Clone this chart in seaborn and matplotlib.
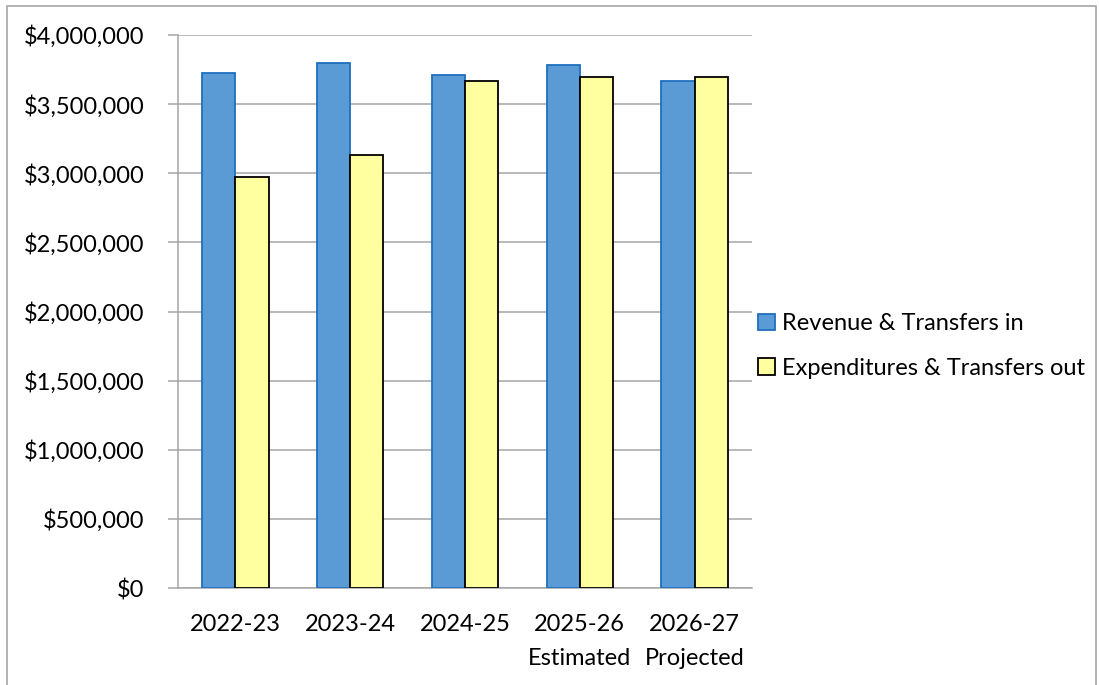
import numpy as np
import pandas as pd
import matplotlib
matplotlib.use("Agg")
import matplotlib.pyplot as plt
import matplotlib.ticker as mticker
from matplotlib.patches import Patch, Rectangle
import seaborn as sns

# data
years = ["2022-23", "2023-24", "2024-25", "2025-26\nEstimated", "2026-27\nProjected"]
revenue = [3728000, 3801000, 3714000, 3786000, 3667000]
expenditures = [2971000, 3129000, 3667000, 3694000, 3694000]
series_names = ["Revenue & Transfers in", "Expenditures & Transfers out"]
y_ticks = [0, 500000, 1000000, 1500000, 2000000, 2500000, 3000000, 3500000, 4000000]

fills = ["#5B9BD5", "#FFFFA0"]
edges = ["#1F6FBF", "#000000"]
grid_col = "#A6A6A6"

df = pd.DataFrame({
    "year": years * 2,
    "amount": revenue + expenditures,
    "series": [series_names[0]] * len(years) + [series_names[1]] * len(years),
})

sns.set_theme(style="white")
plt.rcParams["font.family"] = ["Lato", "DejaVu Sans"]
plt.rcParams["text.color"] = "black"
plt.rcParams["xtick.labelcolor"] = "black"
plt.rcParams["ytick.labelcolor"] = "black"
FS = 17

W, H = 1099, 685
fig = plt.figure(figsize=(W / 100, H / 100), dpi=100)
ax = fig.add_axes([178 / W, 1 - 588 / H, (752 - 178) / W, (588 - 35) / H])

sns.barplot(data=df, x="year", y="amount", hue="series", palette=fills,
            width=0.58, gap=0, saturation=1, ax=ax, legend=False, zorder=3)

for cont, ec in zip(ax.containers, edges):
    for bar in cont:
        bar.set_edgecolor(ec)
        bar.set_linewidth(1.3)

ax.set_ylim(0, 4000000)
ax.set_xlim(-0.5, len(years) - 0.5)
ax.set_yticks(y_ticks)
ax.yaxis.set_major_formatter(mticker.FuncFormatter(lambda v, p: f"${v:,.0f}"))
ax.yaxis.grid(True, color=grid_col, linewidth=1.1, zorder=0)
ax.set_axisbelow(True)

ax.set_xticks(np.arange(len(years)))
ax.set_xticklabels(years, linespacing=1.75, color="black")
ax.set_xticks(np.arange(len(years) + 1) - 0.5, minor=True)
ax.tick_params(axis="x", which="major", length=0, pad=19, labelsize=FS)
ax.tick_params(axis="x", which="minor", length=7, width=1.1, color=grid_col, direction="out")
ax.tick_params(axis="y", length=7, width=1.1, color=grid_col, direction="out",
               pad=17, labelsize=FS, left=True)
for t in ax.get_yticklabels():
    t.set_color("black")

ax.set_xlabel("")
ax.set_ylabel("")
sns.despine(ax=ax, top=True, right=True)
for s in ["left", "bottom"]:
    ax.spines[s].set_color(grid_col)
    ax.spines[s].set_linewidth(1.1)

handles = [Patch(facecolor=f, edgecolor=e, linewidth=1.3) for f, e in zip(fills, edges)]
leg = fig.legend(handles, series_names, loc="center left",
                 bbox_to_anchor=(737 / W, 1 - 346 / H), frameon=False,
                 fontsize=FS, handlelength=0.7, handleheight=0.7,
                 handletextpad=0.3, labelspacing=1.0)
for t in leg.get_texts():
    t.set_color("black")

# outer chart border
fig.add_artist(Rectangle((7 / W, -0.02), (1096 - 7) / W, 1.02 - 6 / H,
                         transform=fig.transFigure, fill=False,
                         edgecolor=grid_col, linewidth=1.2))

fig.savefig("out.png", dpi=100)
